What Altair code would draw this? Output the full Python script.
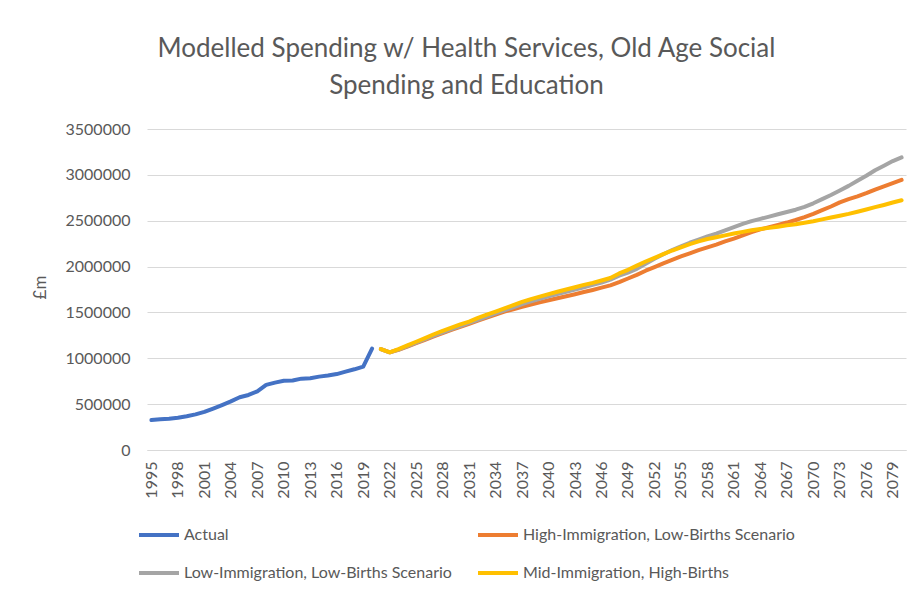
import altair as alt
import pandas as pd

series_names = [
    "Actual",
    "High-Immigration, Low-Births Scenario",
    "Low-Immigration, Low-Births Scenario",
    "Mid-Immigration, High-Births",
]
series_colors = ["#4472C4", "#ED7D31", "#A5A5A5", "#FFC000"]

years_actual = list(range(1995, 2021))
actual = [327000, 335000, 340000, 352000, 368000, 388000, 415000, 452000, 490000, 530000,
          575000, 600000, 640000, 710000, 735000, 755000, 757000, 778000, 782000, 800000,
          812000, 828000, 855000, 880000, 910000, 1105000]

years_proj = list(range(2021, 2081))
high_imm_low_births = [
    1100000, 1065000, 1093000, 1128000, 1165000, 1202000, 1240000, 1275000, 1310000, 1342000,
    1375000, 1410000, 1443000, 1476000, 1508000, 1535000, 1560000, 1585000, 1610000, 1632000,
    1655000, 1677000, 1699000, 1722000, 1745000, 1770000, 1795000, 1830000, 1870000, 1910000,
    1955000, 1995000, 2035000, 2072000, 2110000, 2145000, 2180000, 2210000, 2240000, 2275000,
    2305000, 2340000, 2375000, 2405000, 2430000, 2455000, 2480000, 2508000, 2540000, 2575000,
    2615000, 2655000, 2700000, 2735000, 2765000, 2800000, 2840000, 2875000, 2910000, 2945000]
low_imm_low_births = [
    1100000, 1065000, 1095000, 1132000, 1170000, 1208000, 1247000, 1283000, 1318000, 1352000,
    1385000, 1420000, 1455000, 1490000, 1522000, 1555000, 1590000, 1620000, 1648000, 1675000,
    1700000, 1725000, 1750000, 1775000, 1800000, 1825000, 1858000, 1900000, 1935000, 1975000,
    2030000, 2085000, 2135000, 2180000, 2220000, 2260000, 2295000, 2330000, 2360000, 2395000,
    2430000, 2465000, 2495000, 2520000, 2545000, 2570000, 2595000, 2620000, 2650000, 2690000,
    2735000, 2780000, 2830000, 2880000, 2935000, 2990000, 3050000, 3100000, 3150000, 3190000]
mid_imm_high_births = [
    1100000, 1065000, 1100000, 1140000, 1180000, 1220000, 1262000, 1300000, 1335000, 1370000,
    1400000, 1440000, 1475000, 1510000, 1545000, 1580000, 1615000, 1645000, 1672000, 1700000,
    1725000, 1750000, 1775000, 1800000, 1822000, 1848000, 1875000, 1925000, 1965000, 2010000,
    2055000, 2095000, 2135000, 2175000, 2210000, 2245000, 2275000, 2300000, 2320000, 2340000,
    2360000, 2378000, 2395000, 2410000, 2422000, 2435000, 2450000, 2462000, 2478000, 2495000,
    2515000, 2535000, 2555000, 2575000, 2598000, 2622000, 2648000, 2672000, 2698000, 2723000]

x_tick_years = list(range(1995, 2080, 3))
y_ticks = [0, 500000, 1000000, 1500000, 2000000, 2500000, 3000000, 3500000]

rows = []
for y, v in zip(years_actual, actual):
    rows.append({"year": y, "value": v, "series": series_names[0]})
for name, vals in zip(series_names[1:], [high_imm_low_births, low_imm_low_births, mid_imm_high_births]):
    for y, v in zip(years_proj, vals):
        rows.append({"year": y, "value": v, "series": name})
df = pd.DataFrame(rows)

FONT = "Lato"
GREY_TEXT = "#595959"

chart = alt.Chart(df).mark_line(strokeWidth=4, strokeCap="round", strokeJoin="round").encode(
    x=alt.X("year:Q",
            scale=alt.Scale(domain=[1994.5, 2080.5], nice=False, zero=False),
            axis=alt.Axis(values=x_tick_years, format="d", labelAngle=-90, title=None,
                          grid=False, ticks=False, tickSize=0, labelPadding=11,
                          domainColor="#D9D9D9", domainWidth=1,
                          labelFont=FONT, labelFontSize=16, labelColor=GREY_TEXT,
                          labelOverlap=False, labelFlush=False)),
    y=alt.Y("value:Q",
            scale=alt.Scale(domain=[0, 3500000], nice=False),
            axis=alt.Axis(values=y_ticks, format="d", title="£m", grid=True,
                          gridColor="#D9D9D9", gridWidth=1, domain=False, ticks=False,
                          tickSize=0, labelPadding=17, labelFont=FONT, labelFontSize=16,
                          labelColor=GREY_TEXT, titleFont=FONT, titleFontSize=17,
                          titleFontWeight="normal", titleColor=GREY_TEXT, titleAngle=-90,
                          titleX=-107, titleY=158, titleAlign="center",
                          titleBaseline="middle")),
    color=alt.Color("series:N",
                    scale=alt.Scale(domain=series_names, range=series_colors),
                    legend=alt.Legend(title=None, orient="none", legendX=-10, legendY=384,
                                      direction="horizontal",
                                      columns=2, columnPadding=18, rowPadding=8,
                                      symbolType="stroke", symbolSize=1600,
                                      symbolStrokeWidth=4, labelOffset=3,
                                      labelFont=FONT, labelFontSize=16,
                                      labelColor=GREY_TEXT, labelLimit=400)),
).properties(
    width=759,
    height=321,
    title=alt.TitleParams(
        text=["Modelled Spending w/ Health Services, Old Age Social", "Spending and Education"],
        font=FONT, fontSize=26, fontWeight="normal", color=GREY_TEXT,
        anchor="middle", dx=-60, lineHeight=37, offset=22),
    autosize=alt.AutoSizeParams(type="none"),
    padding={"left": 147, "top": 129, "right": 10, "bottom": 144},
    background="white",
).configure_view(stroke=None)

chart.save("out.html", embed_options={"renderer": "svg", "actions": False})
